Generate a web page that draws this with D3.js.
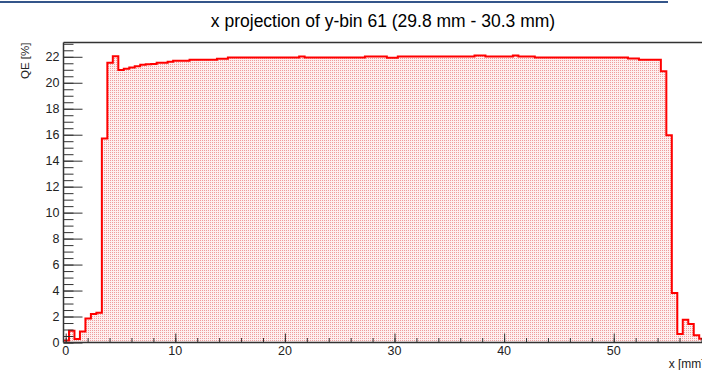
<!DOCTYPE html>
<html>
<head>
<meta charset="utf-8">
<script src="https://cdn.jsdelivr.net/npm/d3@7/dist/d3.min.js"></script>
<style>
  html, body { margin: 0; padding: 0; background: #fff; }
  svg { display: block; }
  text { font-family: "Liberation Sans", Arial, Helvetica, sans-serif; }
</style>
</head>
<body>
<svg id="chart" width="702" height="370"></svg>
<script>
// ---- data ----
const titleText = "x projection of y-bin 61 (29.8 mm - 30.3 mm)";
const xTitle = "x [mm]";
const yTitle = "QE [%]";
const binLow = -0.2;      // lower edge of first bin (mm)
const binWidth = 0.5;     // bin width (mm)
const qeValues = [
  0.15, 0.9, 0.27, 0.85, 1.85, 2.2, 2.3, 15.7, 21.55, 22.05,
  20.98, 21.08, 21.18, 21.28, 21.38, 21.42, 21.44, 21.54, 21.54, 21.62,
  21.7, 21.7, 21.7, 21.77, 21.77, 21.77, 21.77, 21.77, 21.85, 21.85,
  21.95, 21.95, 21.95, 21.95, 21.95, 21.95, 21.95, 21.95, 21.95, 21.95,
  21.95, 21.95, 21.95, 22.03, 21.95, 21.95, 21.95, 21.95, 21.95, 21.95,
  21.95, 21.95, 21.95, 21.95, 21.95, 22.03, 22.03, 22.03, 22.03, 21.92,
  21.92, 22.02, 22.02, 22.02, 22.02, 22.02, 22.02, 22.02, 22.02, 22.02,
  22.02, 22.02, 22.02, 22.02, 22.02, 22.1, 22.1, 22.02, 22.02, 22.02,
  22.02, 22.02, 22.1, 22.02, 22.02, 22.02, 21.95, 21.95, 21.95, 21.95,
  21.95, 21.95, 21.95, 21.95, 21.95, 21.95, 21.95, 21.95, 21.95, 21.95,
  21.95, 21.95, 21.95, 21.87, 21.87, 21.78, 21.78, 21.78, 21.78, 20.88,
  15.95, 3.81, 0.65, 1.75, 1.42, 0.55, 0.29
];
const xMajorTicks = [0, 10, 20, 30, 40, 50];
const yMajorTicks = [0, 2, 4, 6, 8, 10, 12, 14, 16, 18, 20, 22];
const xDomain = [-0.2, 58.3];
const yDomain = [0, 23.1];

// ---- layout ----
const svg = d3.select("#chart");
const L = 63.5, R = 704.7, T = 42.5, B = 342.5;

const x = d3.scaleLinear().domain(xDomain).range([L, R]);
const y = d3.scaleLinear().domain(yDomain).range([B, T]);

// top window strip
svg.append("rect").attr("x", 0).attr("y", 1).attr("width", 668).attr("height", 2)
  .attr("fill", "#34558a");

// pattern fill
const defs = svg.append("defs");
const pat = defs.append("pattern").attr("id", "dots")
  .attr("patternUnits", "userSpaceOnUse").attr("width", 2).attr("height", 2);
pat.append("rect").attr("width", 2).attr("height", 2).attr("fill", "#fdf0f0");
pat.append("rect").attr("width", 1).attr("height", 1).attr("fill", "#ef9c9c");
defs.append("clipPath").attr("id", "clip").append("rect")
  .attr("x", L).attr("y", T).attr("width", R - L).attr("height", B - T);

const pts = qeValues.map((v, i) => ({ x: binLow + i * binWidth, v }));
pts.push({ x: binLow + qeValues.length * binWidth, v: qeValues[qeValues.length - 1] });

const g = svg.append("g").attr("clip-path", "url(#clip)");
const area = d3.area().curve(d3.curveStepAfter)
  .x(d => x(d.x)).y0(y(0)).y1(d => y(d.v));
g.append("path").datum(pts).attr("d", area).attr("fill", "url(#dots)");
const line = d3.line().curve(d3.curveStepAfter).x(d => x(d.x)).y(d => y(d.v));
g.append("path").datum(pts).attr("d", line)
  .attr("fill", "none").attr("stroke", "#ff0000").attr("stroke-width", 2);

// frame
svg.append("line").attr("x1", L).attr("x2", 702).attr("y1", T).attr("y2", T)
  .attr("stroke", "#333").attr("stroke-width", 1.5);

// y axis
const yAxis = d3.axisRight(y).tickValues(yMajorTicks).tickSize(19).tickFormat("");
const yMinor = d3.axisRight(y).tickValues(d3.range(0, 23.01, 0.5)).tickSize(10).tickFormat("");
svg.append("g").attr("transform", `translate(${L},0)`).call(yMinor)
  .call(s => s.select(".domain").remove())
  .selectAll("line").attr("stroke", "#333");
svg.append("g").attr("transform", `translate(${L},0)`).call(yAxis)
  .call(s => s.select(".domain").remove())
  .selectAll("line").attr("stroke", "#333");
svg.append("line").attr("x1", L).attr("x2", L).attr("y1", T).attr("y2", B)
  .attr("stroke", "#333").attr("stroke-width", 1.5);
svg.append("g").selectAll("text").data(yMajorTicks).join("text")
  .attr("x", L - 4).attr("y", d => y(d)).attr("dy", "0.36em")
  .attr("text-anchor", "end").attr("font-size", 12.5).attr("fill", "#222")
  .text(d => d);

// x axis
const xAxis = d3.axisTop(x).tickValues(xMajorTicks).tickSize(9).tickFormat("");
const xMinor = d3.axisTop(x).tickValues(d3.range(0, 58.01, 2)).tickSize(4.5).tickFormat("");
svg.append("g").attr("transform", `translate(0,${B})`).call(xMinor)
  .call(s => s.select(".domain").remove())
  .selectAll("line").attr("stroke", "#333");
svg.append("g").attr("transform", `translate(0,${B})`).call(xAxis)
  .call(s => s.select(".domain").remove())
  .selectAll("line").attr("stroke", "#333");
svg.append("line").attr("x1", L).attr("x2", 702).attr("y1", B).attr("y2", B)
  .attr("stroke", "#333").attr("stroke-width", 1.5);
svg.append("g").selectAll("text").data(xMajorTicks).join("text")
  .attr("x", d => x(d)).attr("y", 355)
  .attr("text-anchor", "middle").attr("font-size", 12.5).attr("fill", "#222")
  .text(d => d);

// titles
svg.append("text").attr("x", 383).attr("y", 27).attr("text-anchor", "middle")
  .attr("font-size", 17.5).attr("fill", "#000").text(titleText);
svg.append("text").attr("x", R).attr("y", 368).attr("text-anchor", "end")
  .attr("font-size", 12).attr("fill", "#222").text(xTitle);
svg.append("text").attr("transform", `translate(29,${T}) rotate(-90)`)
  .attr("text-anchor", "end").attr("font-size", 11.5).attr("fill", "#222").text(yTitle);
</script>
</body>
</html>
